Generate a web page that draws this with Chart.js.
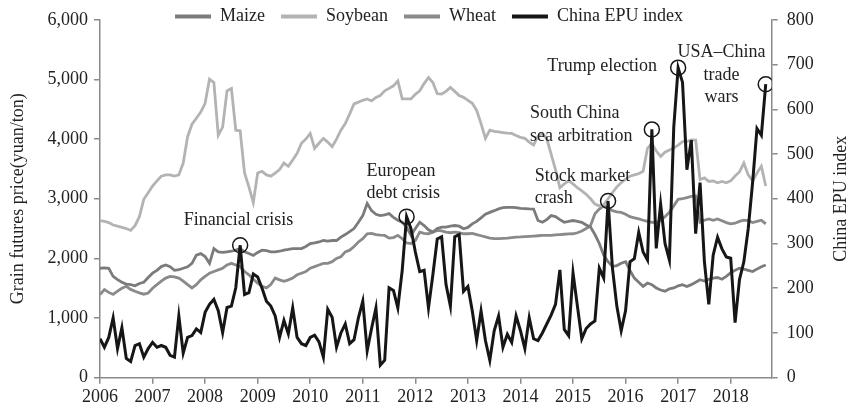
<!DOCTYPE html>
<html lang="en">
<head>
<meta charset="UTF-8">
<title>Grain futures prices and China EPU index</title>
<script src="https://cdn.jsdelivr.net/npm/chart.js@4.4.1/dist/chart.umd.min.js"></script>
<style>
  html, body { margin: 0; padding: 0; background: #fff; }
  #wrap { width: 850px; height: 413px; }
</style>
</head>
<body>
<div id="wrap"><canvas id="grainChart" width="850" height="413"></canvas></div>
<script>
// monthly series, Jan 2006 .. Sep 2018 (one row per year)
const startYear = 2006;
const yearTicks = [2006, 2007, 2008, 2009, 2010, 2011, 2012, 2013, 2014, 2015, 2016, 2017, 2018];

const maize = [
  1835, 1840, 1835, 1700, 1643, 1600, 1570, 1560, 1540, 1580, 1600, 1680,
  1752, 1800, 1863, 1890, 1860, 1800, 1810, 1835, 1860, 1917, 2055, 2080,
  2030, 1917, 2165, 2110, 2100, 2110, 2120, 2140, 2165, 2110, 2083, 2050,
  2100, 2138, 2130, 2110, 2110, 2120, 2138, 2150, 2165, 2165, 2165, 2200,
  2248, 2260, 2275, 2300, 2290, 2300, 2300, 2358, 2400, 2450, 2500, 2606,
  2717, 2920, 2800, 2740, 2717, 2730, 2750, 2689, 2640, 2606, 2524, 2387,
  2500, 2606, 2550, 2480, 2441, 2500, 2524, 2524, 2540, 2551, 2540, 2497,
  2520, 2580, 2620, 2680, 2740, 2772, 2800, 2830, 2850, 2854, 2854, 2850,
  2840, 2835, 2830, 2827, 2635, 2606, 2650, 2717, 2700, 2650, 2606, 2620,
  2635, 2620, 2606, 2560, 2524, 2400, 2250, 2055, 1945, 1863, 1880, 1920,
  1945, 1800, 1670, 1600, 1532, 1587, 1560, 1504, 1470, 1450, 1490, 1504,
  1540, 1560, 1530, 1560, 1600, 1643, 1620, 1650, 1670, 1680, 1650, 1700,
  1760, 1800, 1835, 1820, 1800, 1780, 1820, 1860, 1890
];

const soybean = [
  2635, 2620, 2600, 2560, 2540, 2520, 2500, 2469, 2550, 2700, 2992, 3100,
  3213, 3300, 3378, 3400, 3400, 3380, 3400, 3598, 4040, 4250, 4350, 4452,
  4600, 5003, 4950, 4066, 4200, 4810, 4850, 4149, 4140, 3433, 3200, 2937,
  3433, 3460, 3400, 3378, 3430, 3488, 3598, 3543, 3650, 3763, 3930, 4000,
  4095, 3846, 3930, 4012, 3950, 3874, 4000, 4149, 4260, 4420, 4590, 4620,
  4650, 4673, 4640, 4700, 4730, 4810, 4850, 4893, 4975, 4673, 4673, 4673,
  4750, 4810, 4930, 5031, 4948, 4760, 4755, 4800, 4866, 4800, 4730, 4700,
  4650, 4600, 4480, 4260, 4012, 4150, 4130, 4120, 4110, 4100, 4095, 4060,
  4030, 4012, 3950, 3901, 4050, 4095, 4010, 3750, 3488, 3185, 3250, 3300,
  3250, 3185, 3130, 3075, 3000, 2910, 2880, 2900, 3000, 3100, 3200, 3268,
  3330, 3378, 3400, 3420, 3461, 3846, 3929, 3800, 3709, 3780, 3818, 3850,
  3900, 3957, 3960, 3985, 3983, 3322, 3350, 3290, 3300, 3268, 3290, 3268,
  3300, 3380, 3450, 3598, 3400, 3300, 3430, 3543, 3213
];

const wheat = [
  1395, 1478, 1430, 1395, 1450, 1500, 1532, 1480, 1450, 1423, 1400, 1420,
  1500, 1560, 1620, 1670, 1697, 1690, 1670, 1620, 1560, 1504, 1560, 1640,
  1700, 1752, 1780, 1808, 1835, 1890, 1917, 1890, 1863, 1780, 1725, 1650,
  1587, 1532, 1505, 1560, 1670, 1640, 1615, 1640, 1670, 1725, 1752, 1780,
  1835, 1863, 1890, 1917, 1917, 1945, 2000, 2028, 2110, 2138, 2200, 2276,
  2330, 2413, 2420, 2400, 2390, 2385, 2340, 2350, 2387, 2330, 2260, 2248,
  2300, 2441, 2420, 2413, 2441, 2470, 2460, 2441, 2430, 2441, 2430, 2413,
  2413, 2420, 2400, 2380, 2360, 2340, 2330, 2330, 2335, 2340, 2350, 2358,
  2360, 2365, 2370, 2375, 2380, 2385, 2387, 2387, 2395, 2400, 2405, 2410,
  2413, 2430, 2460, 2500, 2551, 2750, 2827, 2880, 2850, 2800, 2780, 2772,
  2740, 2700, 2680, 2661, 2640, 2620, 2606, 2600, 2640, 2700, 2772, 2880,
  2990, 3000, 3020, 3040, 3047, 2606, 2640, 2661, 2640, 2661, 2630, 2600,
  2578, 2590, 2620, 2640, 2635, 2600, 2620, 2640, 2578
];

const epu = [
  87, 68, 90, 134, 65, 112, 43, 36, 72, 76, 46, 65,
  79, 68, 72, 68, 50, 46, 138, 55, 90, 94, 109, 101,
  146, 164, 175, 150, 101, 157, 160, 201, 296, 186, 190, 232,
  225, 200, 171, 160, 138, 90, 128, 98, 156, 90, 76, 72,
  90, 95, 80, 46, 153, 135, 68, 100, 120, 76, 85, 134,
  171, 60, 110, 156, 28, 39, 201, 195, 156, 240, 360, 333,
  281, 237, 240, 156, 230, 310, 315, 208, 160, 315, 320, 193,
  204, 149, 83, 149, 83, 39, 105, 138, 68, 97, 79, 138,
  105, 65, 134, 87, 83, 100, 120, 140, 164, 241, 108, 94,
  234, 160, 87, 110, 120, 127, 245, 223, 395, 245, 160, 105,
  150, 259, 266, 325, 281, 263, 555, 289, 388, 300, 263, 560,
  693, 660, 465, 531, 322, 436, 259, 164, 274, 314, 288, 270,
  267, 123, 219, 259, 333, 436, 557, 542, 656
];

// months (index into the series) that are circled on the EPU line
const eventMonths = [32, 70, 116, 126, 132, 152];

// event captions, anchored in data units (year, left-axis value)
const eventLabels = [
  { lines: ['Financial crisis'], year: 2008.635, value: 2640, align: 'center' },
  { lines: ['European', 'debt crisis'], year: 2011.07, value: 3466, align: 'left' },
  { lines: ['Stock market', 'crash'], year: 2014.27, value: 3383, align: 'left' },
  { lines: ['South China', 'sea arbitration'], year: 2014.18, value: 4425, align: 'left' },
  { lines: ['Trump election'], year: 2016.6, value: 5218, align: 'right' },
  { lines: ['USA\u2013China', 'trade', 'wars'], year: 2017.824, value: 5450, align: 'center' }
];

const serif = '"Liberation Serif", "Times New Roman", Times, serif';
const textColor = '#222';
const axisGray = '#8a8a8a';

function toPoints(values) {
  return values.map((v, i) => ({ x: startYear + i / 12, y: v }));
}

Chart.defaults.font.family = serif;
Chart.defaults.font.size = 18;
Chart.defaults.color = textColor;

// the legend takes (almost) no room in the layout; move it onto the top of the plot
const legendNudge = {
  id: 'legendNudge',
  afterLayout(chart) {
    const lg = chart.legend;
    if (!lg) return;
    lg.top = -8.5;
    lg.bottom = 40;
    lg.left += 4;
    lg.right += 4;
  }
};

const captions = {
  id: 'captions',
  afterDatasetsDraw(chart) {
    const { ctx, scales, chartArea } = chart;
    ctx.save();
    ctx.fillStyle = textColor;
    ctx.font = '18px ' + serif;
    ctx.textBaseline = 'middle';
    eventLabels.forEach(lab => {
      const x = scales.x.getPixelForValue(lab.year);
      const y = scales.y.getPixelForValue(lab.value);
      ctx.textAlign = lab.align;
      lab.lines.forEach((line, k) => ctx.fillText(line, x, y + k * 22.5));
    });
    // right axis title, reading bottom to top
    ctx.translate(841.5, (chartArea.top + chartArea.bottom) / 2);
    ctx.rotate(-Math.PI / 2);
    ctx.textAlign = 'center';
    ctx.fillText('China EPU index', 0, 0);
    ctx.restore();
  }
};

const axisGrid = { drawOnChartArea: false, color: axisGray, lineWidth: 1.5, tickLength: 6 };
const axisBorder = { color: axisGray, width: 1.5 };

new Chart(document.getElementById('grainChart'), {
  type: 'line',
  data: {
    datasets: [
      { label: 'Maize', data: toPoints(maize), borderColor: '#7b7b7b', backgroundColor: '#7b7b7b',
        borderWidth: 2.8, pointRadius: 0, order: 1 },
      { label: 'Soybean', data: toPoints(soybean), borderColor: '#b3b3b3', backgroundColor: '#b3b3b3',
        borderWidth: 2.8, pointRadius: 0, order: 1 },
      { label: 'Wheat', data: toPoints(wheat), borderColor: '#8a8a8a', backgroundColor: '#8a8a8a',
        borderWidth: 2.8, pointRadius: 0, order: 1 },
      { label: 'China EPU index', data: toPoints(epu), yAxisID: 'y1',
        borderColor: '#161616', backgroundColor: '#161616', borderWidth: 3,
        pointRadius: ctx => eventMonths.includes(ctx.dataIndex) ? 7.5 : 0,
        pointBorderColor: '#161616', pointBackgroundColor: 'rgba(0,0,0,0)',
        pointBorderWidth: 1.5, order: 0 }
    ]
  },
  options: {
    responsive: false,
    animation: false,
    devicePixelRatio: 1,
    events: [],
    layout: { padding: { top: 14, left: 0, right: 0, bottom: 0 } },
    plugins: {
      legend: {
        position: 'top',
        align: 'center',
        maxHeight: 1,
        labels: {
          boxWidth: 36,
          boxHeight: 4,
          padding: 16,
          color: textColor,
          font: { size: 18 },
          sort: (a, b) => a.datasetIndex - b.datasetIndex,
          generateLabels: chart => Chart.defaults.plugins.legend.labels.generateLabels(chart)
            .map(item => Object.assign(item, { fillStyle: item.strokeStyle, lineWidth: 0 }))
        }
      },
      tooltip: { enabled: false }
    },
    scales: {
      x: {
        type: 'linear',
        min: 2006,
        max: 2018.78,
        afterBuildTicks: scale => { scale.ticks = yearTicks.map(v => ({ value: v })); },
        afterFit: scale => { scale.height = 35.3; },
        ticks: { padding: 3, color: textColor, callback: v => String(v) },
        grid: axisGrid,
        border: axisBorder
      },
      y: {
        position: 'left',
        min: 0,
        max: 6000,
        afterFit: scale => { scale.width = 100; },
        ticks: { stepSize: 1000, padding: 6, color: textColor },
        title: { display: true, text: 'Grain futures price(yuan/ton)', color: textColor,
                 font: { size: 18 }, padding: { top: 7, bottom: 0 } },
        grid: axisGrid,
        border: axisBorder
      },
      y1: {
        position: 'right',
        min: 0,
        max: 800,
        afterFit: scale => { scale.width = 78.3; },
        ticks: { stepSize: 100, padding: 9, color: textColor },
        grid: axisGrid,
        border: axisBorder
      }
    }
  },
  plugins: [legendNudge, captions]
});
</script>
</body>
</html>
